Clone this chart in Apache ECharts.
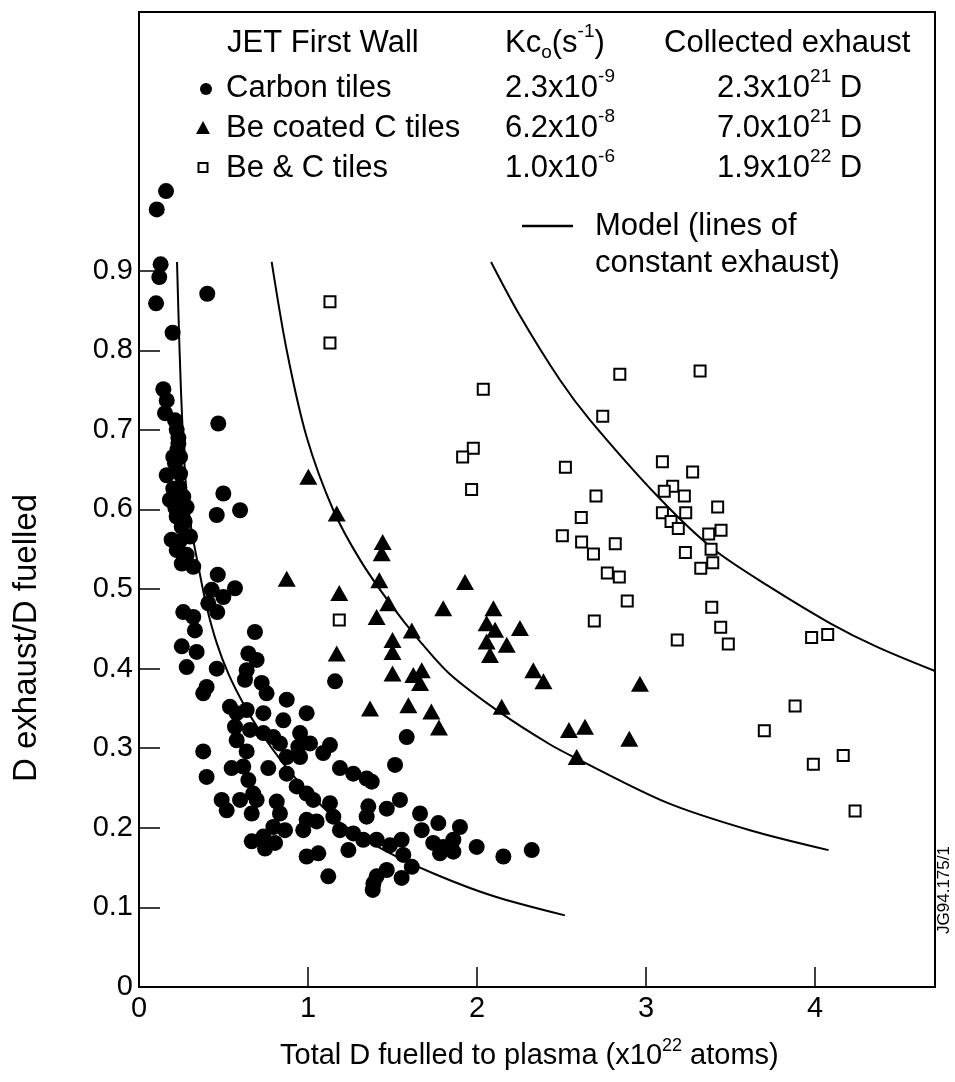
<!DOCTYPE html>
<html>
<head>
<meta charset="utf-8">
<script src="https://cdn.jsdelivr.net/npm/echarts@6/dist/echarts.min.js"></script>
<style>html,body{margin:0;padding:0;background:#fff}#c{width:955px;height:1082px}</style>
</head>
<body>
<div id="c"></div>
<script>
// ---------- DATA ----------
const carbonTiles = [
 [0.160,1.000],[0.105,0.977],[0.128,0.908],[0.120,0.892],[0.101,0.859],[0.404,0.871],[0.199,0.822],
 [0.144,0.751],[0.164,0.737],[0.154,0.721],[0.213,0.712],[0.223,0.700],[0.233,0.690],[0.233,0.683],[0.228,0.675],
 [0.203,0.666],[0.243,0.666],[0.213,0.658],[0.164,0.643],[0.243,0.645],[0.238,0.628],[0.203,0.626],[0.183,0.612],
 [0.262,0.616],[0.215,0.602],[0.282,0.603],[0.223,0.591],[0.270,0.585],[0.253,0.578],[0.193,0.562],[0.302,0.566],
 [0.240,0.560],[0.223,0.549],[0.282,0.543],[0.253,0.532],[0.321,0.528],
 [0.469,0.708],[0.499,0.620],[0.460,0.593],[0.598,0.599],[0.466,0.518],[0.568,0.501],[0.430,0.499],[0.499,0.490],
 [0.463,0.471],[0.410,0.482],[0.262,0.471],[0.321,0.465],[0.331,0.448],[0.686,0.446],
 [0.253,0.428],[0.341,0.421],[0.282,0.402],[0.460,0.400],[0.400,0.377],[0.380,0.369],
 [0.647,0.419],[0.696,0.411],[0.637,0.398],[0.627,0.386],[0.726,0.382],[0.755,0.369],
 [0.538,0.352],[0.578,0.344],[0.637,0.348],[0.736,0.344],[0.874,0.361],[0.992,0.344],[0.854,0.335],
 [0.568,0.327],[0.578,0.310],[0.657,0.323],[0.736,0.319],[0.795,0.314],
 [0.380,0.296],[0.637,0.296],[0.834,0.306],[0.953,0.319],[0.943,0.302],[1.012,0.306],[0.874,0.289],[0.953,0.289],
 [1.130,0.304],[1.090,0.294],[1.189,0.275],[1.268,0.268],[1.347,0.262],[1.377,0.258],[0.765,0.275],[0.400,0.264],
 [0.548,0.275],[0.617,0.277],[0.647,0.260],[0.874,0.268],[0.933,0.252],[0.992,0.243],
 [0.676,0.243],[0.696,0.235],[0.489,0.235],[0.519,0.222],[0.598,0.235],[0.667,0.218],[0.815,0.233],[0.834,0.218],
 [0.795,0.201],[0.864,0.197],[0.667,0.183],[0.736,0.189],[0.746,0.174],[0.805,0.181],
 [1.031,0.235],[1.130,0.231],[0.992,0.210],[1.051,0.208],[0.972,0.197],[1.150,0.214],[1.189,0.197],[1.268,0.193],
 [1.327,0.185],[1.239,0.172],[0.992,0.164],[1.061,0.168],[1.120,0.139],
 [1.357,0.227],[1.347,0.214],[1.466,0.224],[1.544,0.235],[1.663,0.218],[1.406,0.185],[1.485,0.178],[1.554,0.185],
 [1.564,0.166],[1.614,0.151],[1.554,0.137],[1.466,0.147],[1.406,0.139],[1.383,0.122],[1.387,0.130],
 [1.515,0.279],[1.584,0.314],[1.160,0.384],
 [1.673,0.197],[1.741,0.181],[1.771,0.206],[1.801,0.176],[1.899,0.201],[1.860,0.185],[1.860,0.170],[1.781,0.168],
 [1.998,0.176],[2.156,0.164],[2.324,0.172]
];
const beCoatedTiles = [
 [1.002,0.641],[1.170,0.595],[1.442,0.559],[1.436,0.545],[0.874,0.513],[1.422,0.511],[1.185,0.495],[1.929,0.509],
 [1.475,0.482],[1.406,0.465],[1.614,0.448],[1.800,0.476],[2.097,0.476],[2.057,0.457],[2.107,0.449],[2.057,0.434],
 [2.176,0.430],[2.077,0.417],[2.254,0.451],[1.500,0.436],[1.500,0.421],[1.500,0.394],[1.623,0.392],[1.673,0.398],
 [1.663,0.382],[1.170,0.419],[1.367,0.350],[1.594,0.354],[1.730,0.346],[1.775,0.326],[2.333,0.398],[2.393,0.384],
 [2.146,0.352],[2.964,0.381],[2.544,0.323],[2.639,0.327],[2.901,0.312],[2.590,0.289]
];
const beAndCTiles = [
 [1.130,0.861],[1.130,0.809],[2.037,0.751],[1.978,0.677],[1.915,0.666],[1.968,0.625],[1.185,0.461],
 [2.744,0.717],[2.523,0.653],[2.845,0.770],[3.320,0.774],[2.704,0.617],[2.617,0.590],[2.505,0.567],[2.619,0.559],
 [2.689,0.544],[2.818,0.557],[2.771,0.520],[2.842,0.515],[2.889,0.485],[2.694,0.460],
 [3.097,0.660],[3.276,0.647],[3.158,0.629],[3.108,0.623],[3.227,0.617],[3.424,0.603],[3.097,0.596],[3.235,0.596],
 [3.148,0.585],[3.191,0.576],[3.444,0.574],[3.371,0.569],[3.385,0.550],[3.233,0.546],[3.395,0.533],[3.324,0.526],
 [3.389,0.477],[3.442,0.452],[3.185,0.436],[3.487,0.431],[3.980,0.439],[4.075,0.443],[3.882,0.353],[3.700,0.322],
 [4.167,0.291],[3.990,0.280],[4.237,0.221]
];
// model curves (lines of constant exhaust)
const modelCarbon = [[0.225,0.911],[0.240,0.800],[0.258,0.700],[0.280,0.625],[0.310,0.575],[0.350,0.530],[0.400,0.478],
 [0.460,0.432],[0.530,0.393],[0.620,0.355],[0.720,0.320],[0.850,0.282],[1.000,0.245],[1.200,0.205],[1.450,0.172],
 [1.750,0.142],[2.100,0.114],[2.520,0.090]];
const modelBeCoated = [[0.785,0.911],[0.874,0.800],[0.992,0.691],[1.150,0.599],[1.310,0.536],[1.485,0.482],[1.660,0.435],
 [1.840,0.393],[2.136,0.345],[2.430,0.305],[2.590,0.287],[3.120,0.232],[3.615,0.197],[4.080,0.172]];
const modelBeAndC = [[2.083,0.911],[2.250,0.845],[2.490,0.763],[2.670,0.712],[3.080,0.614],[3.400,0.550],[3.730,0.503],
 [4.090,0.457],[4.370,0.427],[4.710,0.397]];
const xTicks = [0,1,2,3,4];
const yTicks = [0,0.1,0.2,0.3,0.4,0.5,0.6,0.7,0.8,0.9];
const legendRows = [
 ['Carbon tiles','2.3x10','-9','2.3x10','21'],
 ['Be coated C tiles','6.2x10','-8','7.0x10','21'],
 ['Be & C tiles','1.0x10','-6','1.9x10','22']
];

// ---------- helpers ----------
const FONT = '"Liberation Sans", Arial, Helvetica, sans-serif';
const mctx = document.createElement('canvas').getContext('2d');
function tw(t, fs){ mctx.font = fs + 'px ' + FONT; return mctx.measureText(t).width; }
function textEl(x, y, t, fs, extra){
  return Object.assign({type:'text', x:x, y:y, z:100, silent:true,
    style:{text:t, fontSize:fs, fontFamily:FONT, fill:'#000',
      align:'left', verticalAlign:'middle', textAlign:'left', textVerticalAlign:'middle'}}, extra||{});
}
function richLine(x, y, parts, fs){
  const els = []; let cx = x;
  parts.forEach(p => {
    const f = p.s ? Math.round(fs*0.62) : fs;
    const dy = p.s === 'sup' ? -fs*0.36 : (p.s === 'sub' ? fs*0.3 : 0);
    els.push(textEl(cx, y+dy, p.t, f));
    cx += tw(p.t, f);
  });
  return els;
}

const LF = 31;
const graphics = [];
graphics.push(textEl(227, 43, 'JET First Wall', LF));
graphics.push(...richLine(505, 43, [{t:'Kc'},{t:'o',s:'sub'},{t:'(s'},{t:'-1',s:'sup'},{t:')'}], LF));
graphics.push(textEl(664, 43, 'Collected exhaust', LF));
const rowY = [88, 128, 168];
legendRows.forEach((r, i) => {
  graphics.push(textEl(226, rowY[i], r[0], LF));
  graphics.push(...richLine(505, rowY[i], [{t:r[1]},{t:r[2],s:'sup'}], LF));
  graphics.push(...richLine(717, rowY[i], [{t:r[3]},{t:r[4],s:'sup'},{t:' D'}], LF));
});
graphics.push({type:'circle', z:100, silent:true, shape:{cx:206, cy:89, r:6}, style:{fill:'#000'}});
graphics.push({type:'polygon', z:100, silent:true, shape:{points:[[203,121],[210,134],[196,134]]}, style:{fill:'#000'}});
graphics.push({type:'rect', z:100, silent:true, shape:{x:198.5, y:163, width:9, height:9}, style:{fill:'#fff', stroke:'#000', lineWidth:2}});
graphics.push({type:'line', z:100, silent:true, shape:{x1:522, y1:226, x2:573, y2:226}, style:{stroke:'#000', lineWidth:2.5}});
graphics.push(textEl(595, 226, 'Model (lines of', LF));
graphics.push(textEl(595, 263, 'constant exhaust)', LF));
graphics.push(...richLine(280, 1056, [{t:'Total D fuelled to plasma (x10'},{t:'22',s:'sup'},{t:' atoms)'}], 29));
graphics.push({type:'text', x:27, y:638, rotation:Math.PI/2, z:100, silent:true,
  style:{text:'D exhaust/D fuelled', fontSize:33, fontFamily:FONT, fill:'#000',
    align:'center', verticalAlign:'middle', textAlign:'center', textVerticalAlign:'middle'}});
graphics.push({type:'text', x:944, y:890, rotation:Math.PI/2, z:100, silent:true,
  style:{text:'JG94.175/1', fontSize:17, fontFamily:FONT, fill:'#000',
    align:'center', verticalAlign:'middle', textAlign:'center', textVerticalAlign:'middle'}});

const lineSeries = (name, data) => ({
  name, type:'line', data, showSymbol:false, smooth:0.3,
  lineStyle:{color:'#000', width:2}, z:3, silent:true
});

const chart = echarts.init(document.getElementById('c'), null, {renderer:'canvas'});
chart.setOption({
  animation:false,
  backgroundColor:'#fff',
  grid:{left:139, right:20, top:12, bottom:95, show:true, borderColor:'#000', borderWidth:2},
  xAxis:{type:'value', min:0, max:4.71,
    axisLine:{show:true, lineStyle:{color:'#000', width:2}},
    axisTick:{show:true, inside:true, length:20, customValues:xTicks, lineStyle:{color:'#000', width:1.5}},
    axisLabel:{customValues:xTicks, color:'#000', fontSize:29, fontFamily:FONT, margin:7, formatter:v=>String(v)},
    splitLine:{show:false}},
  yAxis:{type:'value', min:0, max:1.225,
    axisLine:{show:true, lineStyle:{color:'#000', width:2}},
    axisTick:{show:true, inside:true, length:21, customValues:yTicks, lineStyle:{color:'#000', width:1.5}},
    axisLabel:{customValues:yTicks, color:'#000', fontSize:29, fontFamily:FONT, margin:6,
      formatter:v=> v===0 ? '0' : v.toFixed(1)},
    splitLine:{show:false}},
  graphic:{elements:graphics},
  series:[
    lineSeries('Model C', modelCarbon),
    lineSeries('Model Be coated', modelBeCoated),
    lineSeries('Model Be & C', modelBeAndC),
    {name:'Carbon tiles', type:'scatter', data:carbonTiles, symbol:'circle', symbolSize:16,
      itemStyle:{color:'#000', opacity:1}, z:5},
    {name:'Be coated C tiles', type:'scatter', data:beCoatedTiles, symbol:'triangle', symbolSize:[18,16],
      itemStyle:{color:'#000', opacity:1}, z:5},
    {name:'Be & C tiles', type:'scatter', data:beAndCTiles, symbol:'rect', symbolSize:11,
      itemStyle:{color:'#fff', borderColor:'#000', borderWidth:2, opacity:1}, z:6}
  ]
});
</script>
</body>
</html>
